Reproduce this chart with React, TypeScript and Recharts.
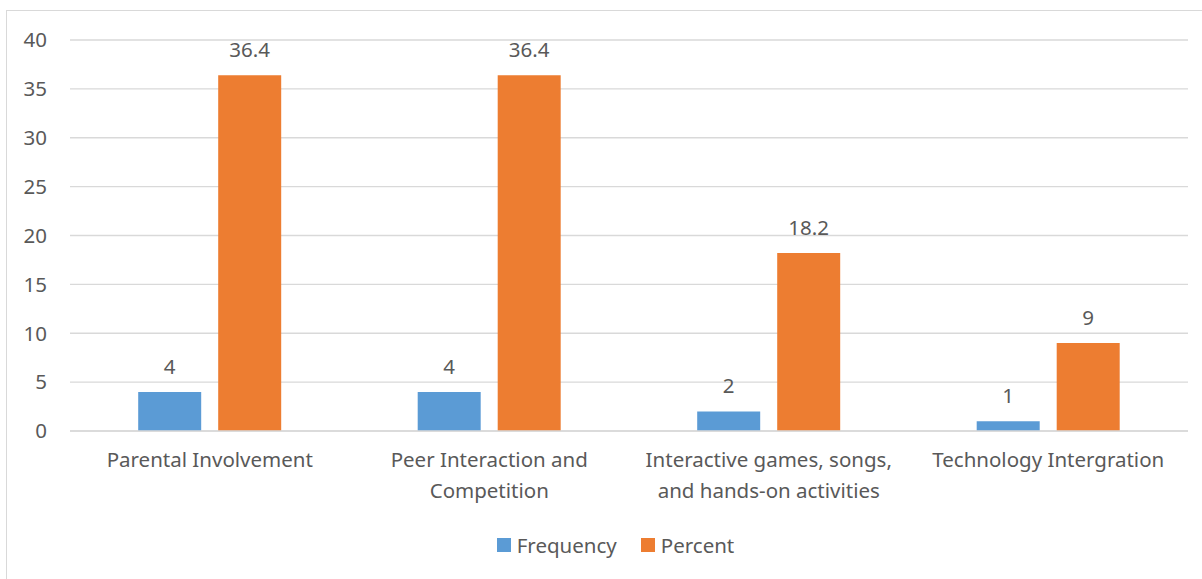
import React from 'react';
import {
  BarChart,
  Bar,
  XAxis,
  YAxis,
  CartesianGrid,
  LabelList,
} from 'recharts';

const categories = [
  'Parental Involvement',
  'Peer Interaction and Competition',
  'Interactive games, songs, and hands-on activities',
  'Technology Intergration',
];
const frequency = [4, 4, 2, 1];
const percent = [36.4, 36.4, 18.2, 9];
const yTicks = [0, 5, 10, 15, 20, 25, 30, 35, 40];

const BLUE = '#5B9BD5';
const ORANGE = '#ED7D31';
const GRID = '#d9d9d9';
const TEXT = '#595959';
const FONT = '"Noto Sans", sans-serif';
const FS = 20.5;

const data = categories.map((name, i) => ({
  name,
  Frequency: frequency[i],
  Percent: percent[i],
}));

// Greedy word wrap based on an approximate glyph width
function wrapLabel(label: string, maxWidth: number, fontSize: number): string[] {
  const words = label.split(' ');
  const charW = fontSize * 0.5;
  const lines: string[] = [];
  let cur = '';
  for (const w of words) {
    const next = cur ? `${cur} ${w}` : w;
    if (next.length * charW > maxWidth && cur) {
      lines.push(cur);
      cur = w;
    } else {
      cur = next;
    }
  }
  if (cur) lines.push(cur);
  return lines;
}

function CategoryTick(props: any) {
  const { x, y, payload } = props;
  const lines = wrapLabel(payload.value, 262, FS);
  return (
    <text x={x} y={y} textAnchor="middle" fill={TEXT} fontSize={FS} fontFamily={FONT}>
      {lines.map((line, i) => (
        <tspan key={i} x={x} dy={i === 0 ? 28 : 31}>
          {line}
        </tspan>
      ))}
    </text>
  );
}

function ChartLegend() {
  const items = [
    { label: 'Frequency', color: BLUE },
    { label: 'Percent', color: ORANGE },
  ];
  return (
    <div
      style={{
        position: 'absolute',
        top: 531,
        left: 0,
        width: 1231,
        display: 'flex',
        justifyContent: 'center',
        gap: 24,
        fontFamily: FONT,
        fontSize: FS,
        color: TEXT,
        lineHeight: '28px',
      }}
    >
      {items.map((it) => (
        <div key={it.label} style={{ display: 'flex', alignItems: 'center', gap: 6 }}>
          <span style={{ width: 14, height: 14, background: it.color, display: 'inline-block' }} />
          <span>{it.label}</span>
        </div>
      ))}
    </div>
  );
}

export default function App() {
  return (
    <div
      style={{
        position: 'absolute',
        left: 0,
        top: 0,
        width: 1202,
        height: 579,
        overflow: 'hidden',
        background: '#fff',
      }}
    >
      <div
        style={{
          position: 'absolute',
          left: 6,
          top: 10,
          width: 1210,
          height: 600,
          border: `1px solid ${GRID}`,
        }}
      />
      <BarChart
        width={1202}
        height={579}
        data={data}
        margin={{ top: 40, right: 14, bottom: 118, left: 0 }}
        barGap={17}
        barCategoryGap="24.4%"
      >
        <CartesianGrid horizontal vertical={false} stroke={GRID} strokeWidth={1.3} />
        <XAxis
          dataKey="name"
          axisLine={{ stroke: GRID, strokeWidth: 1.3 }}
          tickLine={false}
          tick={<CategoryTick />}
          interval={0}
          height={30}
        />
        <YAxis
          width={70}
          domain={[0, 40]}
          ticks={yTicks}
          axisLine={false}
          tickLine={false}
          tick={{ fill: TEXT, fontSize: FS, fontFamily: FONT }}
          tickMargin={17}
        />
        <Bar dataKey="Frequency" fill={BLUE} isAnimationActive={false}>
          <LabelList
            dataKey="Frequency"
            position="top"
            offset={18}
            fill={TEXT}
            fontSize={FS}
            fontFamily={FONT}
          />
        </Bar>
        <Bar dataKey="Percent" fill={ORANGE} isAnimationActive={false}>
          <LabelList
            dataKey="Percent"
            position="top"
            offset={18}
            fill={TEXT}
            fontSize={FS}
            fontFamily={FONT}
          />
        </Bar>
      </BarChart>
      <ChartLegend />
    </div>
  );
}
